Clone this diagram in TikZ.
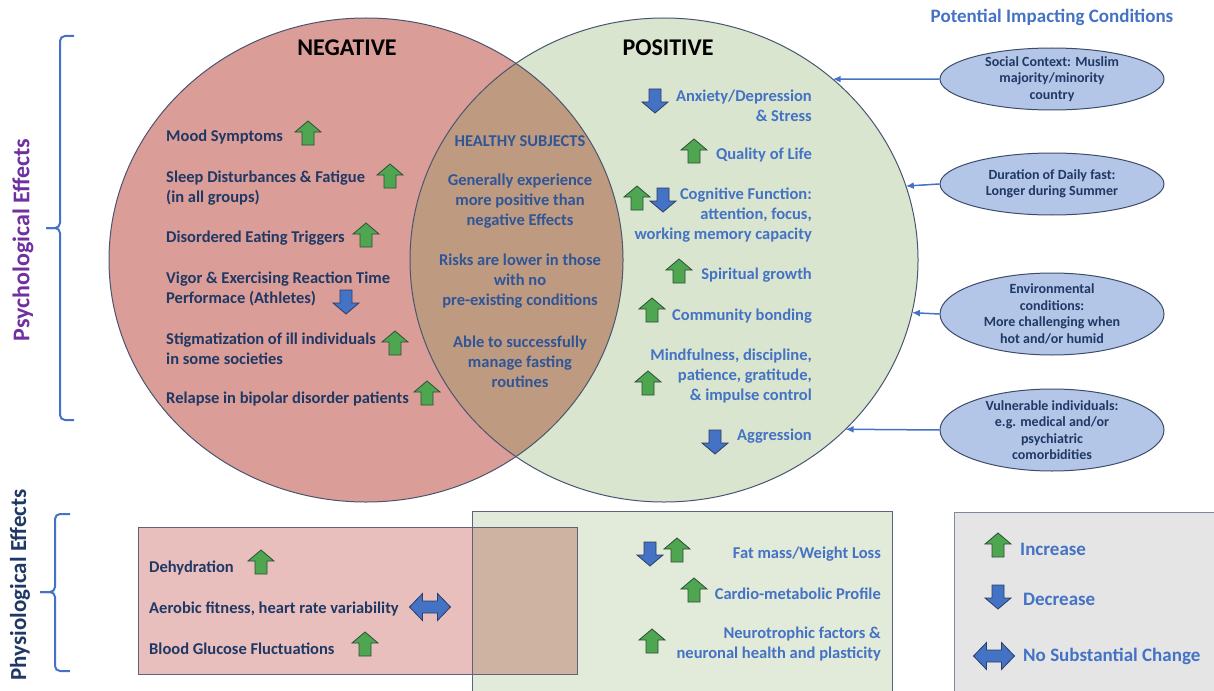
\documentclass[tikz,border=0pt]{standalone}
\usepackage{fontspec}
\setmainfont{Carlito}
\usetikzlibrary{shapes.geometric,arrows.meta}

\definecolor{negfill}{HTML}{DB9D98}
\definecolor{posfill}{HTML}{D9E5CF}
\definecolor{lensfill}{HTML}{BE9B80}
\definecolor{cborder}{HTML}{4A5570}
\definecolor{boxneg}{HTML}{E8BFBD}
\definecolor{boxpos}{HTML}{E2EAD9}
\definecolor{boxmix}{HTML}{CFB3A2}
\definecolor{boxborder}{HTML}{5B6478}
\definecolor{legfill}{HTML}{E5E5E5}
\definecolor{legborder}{HTML}{7F899C}
\definecolor{condfill}{HTML}{B4C6E7}
\definecolor{condborder}{HTML}{3E4C6B}
\definecolor{navy}{HTML}{1F3864}
\definecolor{posblue}{HTML}{4472C4}
\definecolor{midblue}{HTML}{2F5597}
\definecolor{psypurple}{HTML}{7030A0}
\definecolor{arrgreen}{HTML}{4FA651}
\definecolor{arrgreenline}{HTML}{2F4D38}
\definecolor{arrblueline}{HTML}{2C3E66}

\tikzset{
  negtxt/.style={anchor=west, align=left, inner sep=0pt, text=navy, yshift=-1.5pt,
    font=\bfseries\fontsize{16.5}{20}\selectfont},
  postxt/.style={anchor=east, align=right, inner sep=0pt, text=posblue, yshift=-1.5pt,
    font=\bfseries\fontsize{16.5}{20}\selectfont},
  midtxt/.style={align=center, inner sep=0pt, text=midblue, yshift=-1.5pt,
    font=\bfseries\fontsize{16.5}{20}\selectfont},
  legtxt/.style={anchor=west, inner sep=0pt, text=posblue, yshift=-1pt,
    font=\bfseries\fontsize{19}{22}\selectfont},
  condbox/.style={ellipse, draw=condborder, fill=condfill, line width=1pt,
    minimum width=224pt, inner sep=0pt},
  condtxt/.style={align=center, inner sep=0pt, text=navy,
    font=\bfseries\fontsize{14}{16.5}\selectfont},
  link/.style={draw=posblue, line width=1.5pt, -{Latex[length=8pt,width=7pt]}},
  brace/.style={draw=posblue, line width=2pt, rounded corners=5pt},
  uparr/.pic={\draw[fill=arrgreen, draw=arrgreenline, line width=0.8pt]
    (0,-12) -- (13,-1) -- (6,-1) -- (6,12) -- (-6,12) -- (-6,-1) -- (-13,-1) -- cycle;},
  downarr/.pic={\draw[fill=posblue, draw=arrblueline, line width=0.8pt]
    (0,12) -- (13,1) -- (6,1) -- (6,-12) -- (-6,-12) -- (-6,1) -- (-13,1) -- cycle;},
  bothway/.pic={\draw[fill=posblue, draw=arrblueline, line width=0.8pt]
    (-20.5,0) -- (-7.5,-13.5) -- (-7.5,-6) -- (7.5,-6) -- (7.5,-13.5) -- (20.5,0)
    -- (7.5,13.5) -- (7.5,6) -- (-7.5,6) -- (-7.5,13.5) -- cycle;}
}

\begin{document}
\begin{tikzpicture}[x=1pt, y=-1pt]
  \useasboundingbox (0,0) rectangle (1214,690);

  % venn circles
  \node[ellipse, fill=negfill, minimum width=514pt, minimum height=484pt, inner sep=0pt, outer sep=0pt] (neg) at (366,260) {};
  \node[ellipse, fill=posfill, minimum width=508pt, minimum height=484pt, inner sep=0pt, outer sep=0pt] (pos) at (664,260) {};
  \begin{scope}
    \clip (366,260) ellipse [x radius=257, y radius=242];
    \fill[lensfill] (664,260) ellipse [x radius=254, y radius=242];
  \end{scope}
  \draw[cborder, line width=1pt] (366,260) ellipse [x radius=257, y radius=242];
  \draw[cborder, line width=1pt] (664,260) ellipse [x radius=254, y radius=242];

  \node[font=\bfseries\fontsize{24}{28}\selectfont] (negtitle) at (347,48) {NEGATIVE};
  \node[font=\bfseries\fontsize{24}{28}\selectfont] (postitle) at (668,48) {POSITIVE};

  % negative effects
  \node[negtxt] (mood) at (166,136) {Mood Symptoms};
  \node[negtxt] (sleep) at (166,187) {Sleep Disturbances \& Fatigue\\(in all groups)};
  \node[negtxt] (eat) at (166,237) {Disordered Eating Triggers};
  \node[negtxt] (vigor) at (166,287) {Vigor \& Exercising Reaction Time\\Performace (Athletes)};
  \node[negtxt] (stigma) at (166,347) {Stigmatization of ill individuals\\in some societies};
  \node[negtxt] (relapse) at (166,397) {Relapse in bipolar disorder patients};

  % healthy subjects
  \node[midtxt] (healthy) at (520,140) {HEALTHY SUBJECTS};
  \node[midtxt] (general) at (520,200) {Generally experience\\more positive than\\negative Effects};
  \node[midtxt] (risks) at (520,280) {Risks are lower in those\\with no\\pre-existing conditions};
  \node[midtxt] (able) at (520,360) {Able to successfully\\manage fasting\\routines};

  % positive effects
  \node[postxt] (anxiety) at (812,104) {Anxiety/Depression\\\& Stress};
  \node[postxt] (quality) at (812,154) {Quality of Life};
  \node[postxt] (cognitive) at (812,214) {Cognitive Function:\\attention, focus,\\working memory capacity};
  \node[postxt] (spirit) at (812,274) {Spiritual growth};
  \node[postxt] (community) at (812,315) {Community bonding};
  \node[postxt] (mindful) at (812,375) {Mindfulness, discipline,\\patience, gratitude,\\\& impulse control};
  \node[postxt] (aggression) at (812,435) {Aggression};

  % impacting conditions
  \node[text=posblue, font=\bfseries\fontsize{19}{22}\selectfont] (condtitle) at (1052,17) {Potential Impacting Conditions};
  \node[condbox, minimum height=62pt] (social) at (1052,79) {};
  \node[condtxt] at (social) {Social Context: Muslim\\majority/minority\\country};
  \node[condbox, minimum height=62pt] (duration) at (1052,184) {};
  \node[condtxt] at (duration) {Duration of Daily fast:\\Longer during Summer};
  \node[condbox, minimum height=82pt] (environ) at (1052,314) {};
  \node[condtxt] at (environ) {Environmental\\conditions:\\More challenging when\\hot and/or humid};
  \node[condbox, minimum height=82pt] (vulner) at (1052,430) {};
  \node[condtxt] at (vulner) {Vulnerable individuals:\\e.g. medical and/or\\psychiatric\\comorbidities};

  \draw[link] (social.west) -- (pos.47.03);
  \draw[link] (duration.west) -- (pos.17.5);
  \draw[link] (environ.west) -- (pos.-12.29);
  \draw[link] (vulner.west) -- (pos.-43.24);

  % physiological boxes
  \fill[boxneg] (138,527) rectangle (577,674);
  \fill[boxpos] (472,511) rectangle (892,700);
  \fill[boxmix] (472,527) rectangle (577,674);
  \draw[boxborder, line width=1pt] (138,527) rectangle (577,674);
  \draw[boxborder, line width=1pt] (472,511) rectangle (892,700);

  \node[negtxt] (dehyd) at (149,566) {Dehydration};
  \node[negtxt] (aerobic) at (149,607) {Aerobic fitness, heart rate variability};
  \node[negtxt] (glucose) at (149,647) {Blood Glucose Fluctuations};
  \node[postxt] (fatmass) at (881,553) {Fat mass/Weight Loss};
  \node[postxt] (cardio) at (881,592) {Cardio-metabolic Profile};
  \node[postxt] (neuro) at (881,642) {Neurotrophic factors \&\\neuronal health and plasticity};

  % legend
  \draw[fill=legfill, draw=legborder, line width=1pt] (954,512) rectangle (1220,700);
  \node[legtxt] (incr) at (1020,548) {Increase};
  \node[legtxt] (decr) at (1023,598) {Decrease};
  \node[legtxt] (nochange) at (1023,655) {No Substantial Change};

  % block arrows
  \foreach \x/\y in {308/133, 390/176, 366/235, 395/343, 427/393, 694/151, 637/198,
      679/271, 652/310, 648/383, 261/562, 365/644, 677/550, 694/590, 652/641, 998/545}
    \pic at (\x,\y) {uparr};
  \foreach \x/\y in {346/302, 655/101, 663/200, 715/442, 650/554, 998/597}
    \pic at (\x,\y) {downarr};
  \foreach \x/\y in {430/607, 994/656}
    \pic at (\x,\y) {bothway};

  % side labels
  \draw[brace] (74,36) -- (60,36) -- (60,228) -- (46,228);
  \draw[brace] (46,228) -- (60,228) -- (60,420) -- (74,420);
  \node[rotate=90, text=psypurple, font=\bfseries\fontsize{24}{28}\selectfont] (psycho) at (23,240) {Psychological Effects};
  \draw[brace] (70,514) -- (55,514) -- (55,592) -- (40,592);
  \draw[brace] (40,592) -- (55,592) -- (55,671) -- (70,671);
  \node[rotate=90, text=navy, font=\bfseries\fontsize{23}{27}\selectfont] (physio) at (20,585) {Physiological Effects};
\end{tikzpicture}
\end{document}
